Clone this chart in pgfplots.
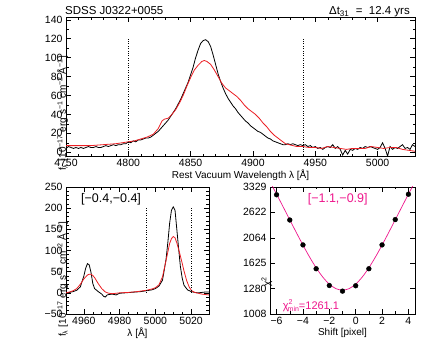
\documentclass[border=0pt]{standalone}
\usepackage{fontspec}
\setmainfont{Liberation Sans}
\usepackage{pgfplots}
\pgfplotsset{compat=1.18}
\definecolor{idlred}{RGB}{235,30,35}
\definecolor{idlmag}{RGB}{238,22,140}

\pgfplotsset{
  idl/.style={
    scale only axis, anchor=south west,
    axis line style={line width=0.6pt},
    tick align=inside,
    every tick/.style={black, line width=0.5pt},
    major tick length=5pt, minor tick length=2.5pt,
    tick label style={font=\fontsize{10.5}{12}\selectfont},
    label style={font=\fontsize{10}{12}\selectfont},
    /pgf/number format/assume math mode=true,
    /pgf/number format/1000 sep={},
    scaled ticks=false,
    xlabel style={at={(axis description cs:0.5,0)}, anchor=base, yshift=-22pt},
    ylabel style={at={(axis description cs:0,0.5)}, anchor=base, rotate=0},
  },
  spec/.style={line width=0.8pt},
}

\newcommand{\flabel}{f\textsubscript{λ} [10\textsuperscript{−17} erg s\textsuperscript{−1} cm\textsuperscript{−2} Å\textsuperscript{−1}]}

\begin{document}
\begin{tikzpicture}
\useasboundingbox (0pt,0pt) rectangle (436pt,349pt);

% top panel: full H-beta region
\begin{axis}[idl, at={(66pt,193pt)}, width=349pt, height=139pt,
  xmin=4750, xmax=5030, ymin=-4, ymax=143,
  xtick={4750,4800,...,5000}, ytick={0,20,...,140},
  minor x tick num=4, minor y tick num=1,
  xlabel={Rest Vacuum Wavelength λ [Å]},
  ylabel={\flabel},
  ylabel style={xshift=-27pt},
]
\addplot[black, spec] coordinates {
(4750,4) (4752,6) (4754,5) (4756,4) (4758,5) (4760,4) (4762,5) (4764,4) (4766,5) (4768,6)
(4770,5) (4772,5) (4774,6) (4776,5) (4778,5) (4780,6) (4782,7) (4784,6) (4786,7) (4788,8)
(4790,7) (4792,8) (4794,8) (4796,9) (4798,9) (4800,11) (4802,10) (4804,12) (4806,11) (4808,13)
(4810,13) (4812,14) (4814,15) (4816,15) (4818,16) (4820,18) (4822,20) (4824,22) (4826,25) (4828,28)
(4830,31) (4832,34) (4834,38) (4836,42) (4838,46) (4840,51) (4842,56) (4844,62) (4846,68) (4848,74)
(4850,82) (4852,90) (4854,100) (4856,108) (4858,115) (4860,118) (4862,119) (4864,117) (4866,112) (4868,103)
(4870,93) (4872,83) (4874,75) (4876,68) (4878,62) (4880,57) (4882,53) (4884,49) (4886,46) (4888,42)
(4890,39) (4892,36) (4894,33) (4896,31) (4898,28) (4900,26) (4902,24) (4904,22) (4906,21) (4908,19)
(4910,17) (4912,15) (4914,14) (4916,12) (4918,11) (4920,10) (4922,9) (4924,8) (4926,8) (4928,9)
(4930,8) (4932,9) (4934,8) (4936,7) (4938,8) (4940,7) (4942,8) (4944,6) (4946,7) (4948,5)
(4950,6) (4952,4) (4954,5) (4956,3) (4958,5) (4960,6) (4962,5) (4964,8) (4966,4) (4968,6)
(4970,3) (4972,-3) (4974,2) (4976,-2) (4978,3) (4980,2) (4982,4) (4984,3) (4986,5) (4988,4)
(4990,6) (4992,5) (4994,6) (4996,5) (4998,4) (5000,3) (5002,5) (5004,10) (5006,4) (5008,-4)
(5010,6) (5012,3) (5014,5) (5016,4) (5018,6) (5020,8) (5022,4) (5024,5) (5026,3) (5028,8) (5030,6)
};
\addplot[idlred, spec] coordinates {
(4750,7) (4760,7) (4770,7) (4780,8) (4790,9) (4800,11) (4805,12) (4810,14) (4815,16) (4820,19)
(4824,25) (4827,33) (4829,35) (4832,36) (4835,40) (4838,45) (4841,52) (4844,60) (4847,70) (4850,79)
(4853,87) (4856,92) (4859,96) (4861,97) (4863,96) (4866,93) (4869,87) (4872,80) (4875,73) (4878,68)
(4881,65) (4884,62) (4887,59) (4890,55) (4893,50) (4896,46) (4899,43) (4902,40) (4905,36) (4908,31)
(4911,27) (4914,22) (4917,18) (4920,15) (4923,12) (4926,9) (4929,8) (4932,7) (4935,6) (4940,6)
(4945,5) (4950,5) (4955,4) (4960,6) (4965,5) (4970,4) (4975,3) (4980,4) (4985,4) (4990,4)
(4995,6) (5000,5) (5005,4) (5010,5) (5015,5) (5020,3) (5025,2) (5030,1)
};
\addplot[black, line width=0.6pt, dash pattern=on 0.8pt off 1.6pt] coordinates {(4800,0) (4800,120)};
\addplot[black, line width=0.6pt, dash pattern=on 0.8pt off 1.6pt] coordinates {(4940,0) (4940,120)};
\end{axis}

% bottom left: [OIII] doublet
\begin{axis}[idl, at={(66pt,35pt)}, width=143pt, height=127pt,
  xmin=4950, xmax=5030, ymin=-50, ymax=250,
  xtick={4960,4980,5000,5020}, ytick={-50,0,...,250},
  yticklabels={−50,0,50,100,150,200,250},
  minor x tick num=3, minor y tick num=4,
  xlabel={λ [Å]},
  ylabel={\flabel},
  ylabel style={xshift=-29pt},
]
\addplot[black, spec] coordinates {
(4950,0) (4952,1) (4954,3) (4956,6) (4958,14) (4960,40) (4961,58) (4962,69) (4963,66) (4964,48)
(4965,22) (4966,10) (4968,3) (4970,-3) (4971,-8) (4972,-10) (4973,-5) (4974,-4) (4976,-3) (4978,-5)
(4980,-1) (4983,0) (4986,1) (4989,2) (4992,3) (4995,5) (4998,7) (5000,10) (5002,16) (5004,30)
(5006,80) (5007,120) (5008,165) (5009,195) (5010,203) (5011,195) (5012,150) (5013,105) (5014,62) (5015,35)
(5016,18) (5018,7) (5020,3) (5022,1) (5024,0) (5026,1) (5028,2) (5030,2)
};
\addplot[idlred, spec] coordinates {
(4950,0) (4952,2) (4954,5) (4956,10) (4958,20) (4960,33) (4962,42) (4963,44) (4964,44) (4965,41)
(4966,36) (4968,22) (4970,10) (4972,2) (4974,-1) (4976,-2) (4978,-1) (4980,0) (4985,1) (4990,3)
(4995,6) (4998,9) (5000,12) (5002,19) (5004,38) (5006,77) (5008,117) (5009,128) (5010,133) (5011,130)
(5012,118) (5013,103) (5014,87) (5015,70) (5016,52) (5017.5,29) (5019,13) (5020.3,5) (5022,1) (5024,-1)
(5026,-3) (5028,-4) (5030,-5)
};
\addplot[black, line width=0.6pt, dash pattern=on 0.8pt off 1.6pt] coordinates {(4995,0) (4995,200)};
\addplot[black, line width=0.6pt, dash pattern=on 0.8pt off 1.6pt] coordinates {(5020,0) (5020,200)};
\node[font=\fontsize{12.5}{14}\selectfont] at (axis description cs:0.315,0.906) {[−0.4,−0.4]};
\end{axis}

% bottom right: chi^2 versus shift
\begin{axis}[idl, at={(270pt,35pt)}, width=145pt, height=127pt,
  xmin=-6.5, xmax=4.5, ymode=log, ymin=1008, ymax=3329,
  xtick={-6,-4,...,4}, xticklabels={−6,−4,−2,0,2,4},
  minor x tick num=1,
  ytick={1008,1280,1625,2064,2622,3329},
  yticklabels={1008,1280,1625,2064,2622,3329},
  yminorticks=false,
  xlabel={Shift [pixel]},
  ylabel={χ\textsuperscript{2}},
  ylabel style={xshift=-31pt},
]
\addplot[idlmag, line width=0.7pt, smooth] coordinates {
(-6.5,3499.5) (-6,3111) (-5.5,2759.5) (-5,2445) (-4.5,2167.5) (-4,1927) (-3.5,1723.5) (-3,1557)
(-2.5,1427.5) (-2,1335) (-1.5,1279.5) (-1,1261) (-0.5,1279.5) (0,1335) (0.5,1427.5) (1,1557)
(1.5,1723.5) (2,1927) (2.5,2167.5) (3,2445) (3.5,2759.5) (4,3111) (4.5,3499.5)
};
\addplot[only marks, mark=*, mark size=2.4pt, black] coordinates {
(-6,3094) (-5,2440) (-4,1931) (-3,1543) (-2,1318) (-1,1250) (0,1315) (1,1543) (2,1931) (3,2450) (4,3110)
};
\node[idlmag, font=\fontsize{12.5}{14}\selectfont] at (axis description cs:0.467,0.906) {[−1.1,−0.9]};
\node[idlmag, anchor=base west, font=\fontsize{11}{12}\selectfont, inner sep=0pt]
  at (axis description cs:0.088,0.037) {χ\raisebox{0.9ex}{\scriptsize 2}\kern-0.45em\raisebox{-0.45ex}{\scriptsize min}=1261.1};
\end{axis}

\node[anchor=base west, font=\fontsize{11.5}{13}\selectfont, inner sep=0pt] at (65pt,334.3pt) {SDSS J0322+0055};
\node[anchor=base east, font=\fontsize{11.5}{13}\selectfont, inner sep=0pt] at (410pt,334.3pt) {Δt\textsubscript{31} \ = \ 12.4 yrs};
\end{tikzpicture}
\end{document}
